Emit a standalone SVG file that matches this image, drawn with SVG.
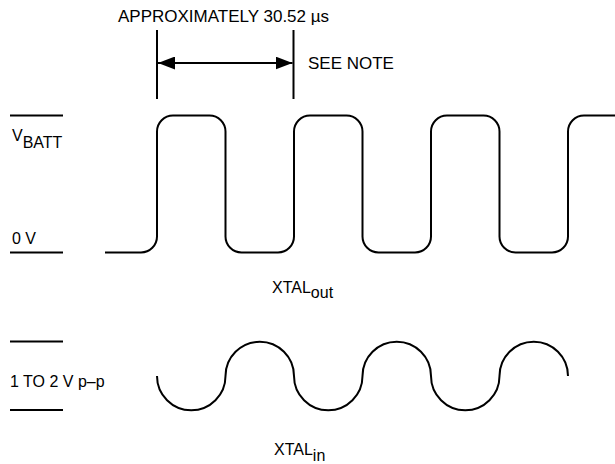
<svg xmlns="http://www.w3.org/2000/svg" width="615" height="464" viewBox="0 0 615 464">
<style>
.ln{fill:none;stroke:#000;stroke-width:2}
.t{font-family:"Liberation Sans",Arial,sans-serif;font-size:16px;fill:#000}
.tb{font-family:"Liberation Sans",Arial,sans-serif;font-size:17px;fill:#000}
</style>
<defs>
<marker id="ah" viewBox="0 0 17 13" refX="17" refY="6.5" markerWidth="17" markerHeight="13" markerUnits="userSpaceOnUse" orient="auto-start-reverse">
<path d="M0,0 L17,6.5 L0,13 Z" fill="#000"/>
</marker>
</defs>
<rect width="615" height="464" fill="#fff"/>
<g id="dimension">
<text class="tb" x="118" y="22">APPROXIMATELY 30.52 µs</text>
<text class="tb" x="308" y="69">SEE NOTE</text>
</g>
<g id="connectors">
<line class="ln" x1="157" y1="30" x2="157" y2="99"/>
<line class="ln" x1="293.5" y1="30" x2="293.5" y2="99"/>
<line class="ln" x1="158" y1="63" x2="292.5" y2="63" marker-start="url(#ah)" marker-end="url(#ah)"/>
</g>
<g id="levels-out">
<line class="ln" x1="10" y1="115.5" x2="63" y2="115.5"/>
<line class="ln" x1="10" y1="252.5" x2="63" y2="252.5"/>
<text class="t" x="12" y="141">V<tspan font-size="16" dy="7">BATT</tspan></text>
<text class="t" x="12" y="244">0 V</text>
</g>
<g id="xtal-out">
<path class="ln" d="M105,252.5 H141 A16,16 0 0 0 157,236.5 V131.5 A16,16 0 0 1 173,115.5 H209.5 A16,16 0 0 1 225.5,131.5 V236.5 A16,16 0 0 0 241.5,252.5 H278 A16,16 0 0 0 294,236.5 V131.5 A16,16 0 0 1 310,115.5 H346.5 A16,16 0 0 1 362.5,131.5 V236.5 A16,16 0 0 0 378.5,252.5 H415 A16,16 0 0 0 431,236.5 V131.5 A16,16 0 0 1 447,115.5 H483.5 A16,16 0 0 1 499.5,131.5 V236.5 A16,16 0 0 0 515.5,252.5 H552 A16,16 0 0 0 568,236.5 V131.5 A16,16 0 0 1 584,115.5 H616"/>
<text class="t" x="272" y="293">XTAL<tspan dy="5">out</tspan></text>
</g>
<g id="levels-in">
<line class="ln" x1="10" y1="341.5" x2="63" y2="341.5"/>
<line class="ln" x1="10" y1="410" x2="63" y2="410"/>
<text class="t" x="10" y="387">1 TO 2 V p–p</text>
</g>
<g id="xtal-in">
<path class="ln" d="M157,376 A34.25,34.25 0 0 0 225.5,376 A34.25,34.25 0 0 1 294,376 A34.25,34.25 0 0 0 362.5,376 A34.25,34.25 0 0 1 431,376 A34.25,34.25 0 0 0 499.5,376 A34.25,34.25 0 0 1 568,376"/>
<text class="t" x="274" y="455">XTAL<tspan dy="6">in</tspan></text>
</g>
</svg>
